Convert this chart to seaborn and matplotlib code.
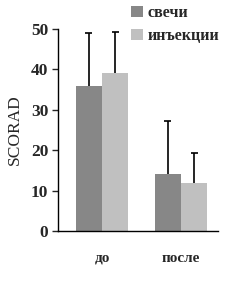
import numpy as np
import pandas as pd
import matplotlib
matplotlib.use("Agg")
import matplotlib.pyplot as plt
import seaborn as sns

# values
periods = ["до", "после"]
groups = ["свечи", "инъекции"]
svechi_mean = [36, 14]
svechi_sd = [13, 13.2]
injekcii_mean = [39, 12]
injekcii_sd = [10.3, 7.3]
bar_colors = ["#878787", "#c0c0c0"]

df = pd.DataFrame({
    "period": periods * 2,
    "group": [groups[0]] * 2 + [groups[1]] * 2,
    "score": svechi_mean + injekcii_mean,
    "sd": svechi_sd + injekcii_sd,
})

sns.set_style("white")
plt.rcParams["font.family"] = ["Liberation Serif", "DejaVu Serif"]

fig = plt.figure(figsize=(2.53, 2.81), dpi=100)
ax = fig.add_axes([58 / 253, 50 / 281, 160 / 253, 202 / 281])

sns.barplot(data=df, x="period", y="score", hue="group", palette=bar_colors,
            width=0.67, saturation=1, errorbar=None, ax=ax, linewidth=0)

# upper error bars only (line + top cap)
cap = 0.045
for cont, g in zip(ax.containers, groups):
    sub = df[df["group"] == g]
    xs = np.array([p.get_x() + p.get_width() / 2 for p in cont])
    lo = sub["score"].values
    hi = lo + sub["sd"].values
    ax.vlines(xs, lo, hi, color="black", linewidth=1.2)
    ax.hlines(hi, xs - cap, xs + cap, color="black", linewidth=1.2)

ax.set_xlim(-0.557, 1.468)
ax.set_ylim(0, 50)
ax.set_yticks([0, 10, 20, 30, 40, 50])
ax.set_xlabel("")
ax.set_ylabel("SCORAD", fontsize=12.5, labelpad=6)

for s in ["top", "right"]:
    ax.spines[s].set_visible(False)
for s in ["left", "bottom"]:
    ax.spines[s].set_color("black")
    ax.spines[s].set_linewidth(1.0)

ax.tick_params(axis="y", direction="out", length=4, width=1, pad=3,
               left=True, labelsize=12.5)
ax.tick_params(axis="x", length=0, pad=15, labelsize=11)
for lab in ax.get_yticklabels() + ax.get_xticklabels():
    lab.set_fontweight("bold")

handles, labels = ax.get_legend_handles_labels()
ax.legend_.remove()
fig.legend(handles, labels, loc="upper left", bbox_to_anchor=(131 / 253, 1 - 5 / 281),
           frameon=False, handlelength=0.75, handleheight=0.75, handletextpad=0.3,
           labelspacing=0.45, borderpad=0, borderaxespad=0,
           prop={"family": "Liberation Serif", "weight": "bold", "size": 11.5})

fig.savefig("out.png", dpi=100)
